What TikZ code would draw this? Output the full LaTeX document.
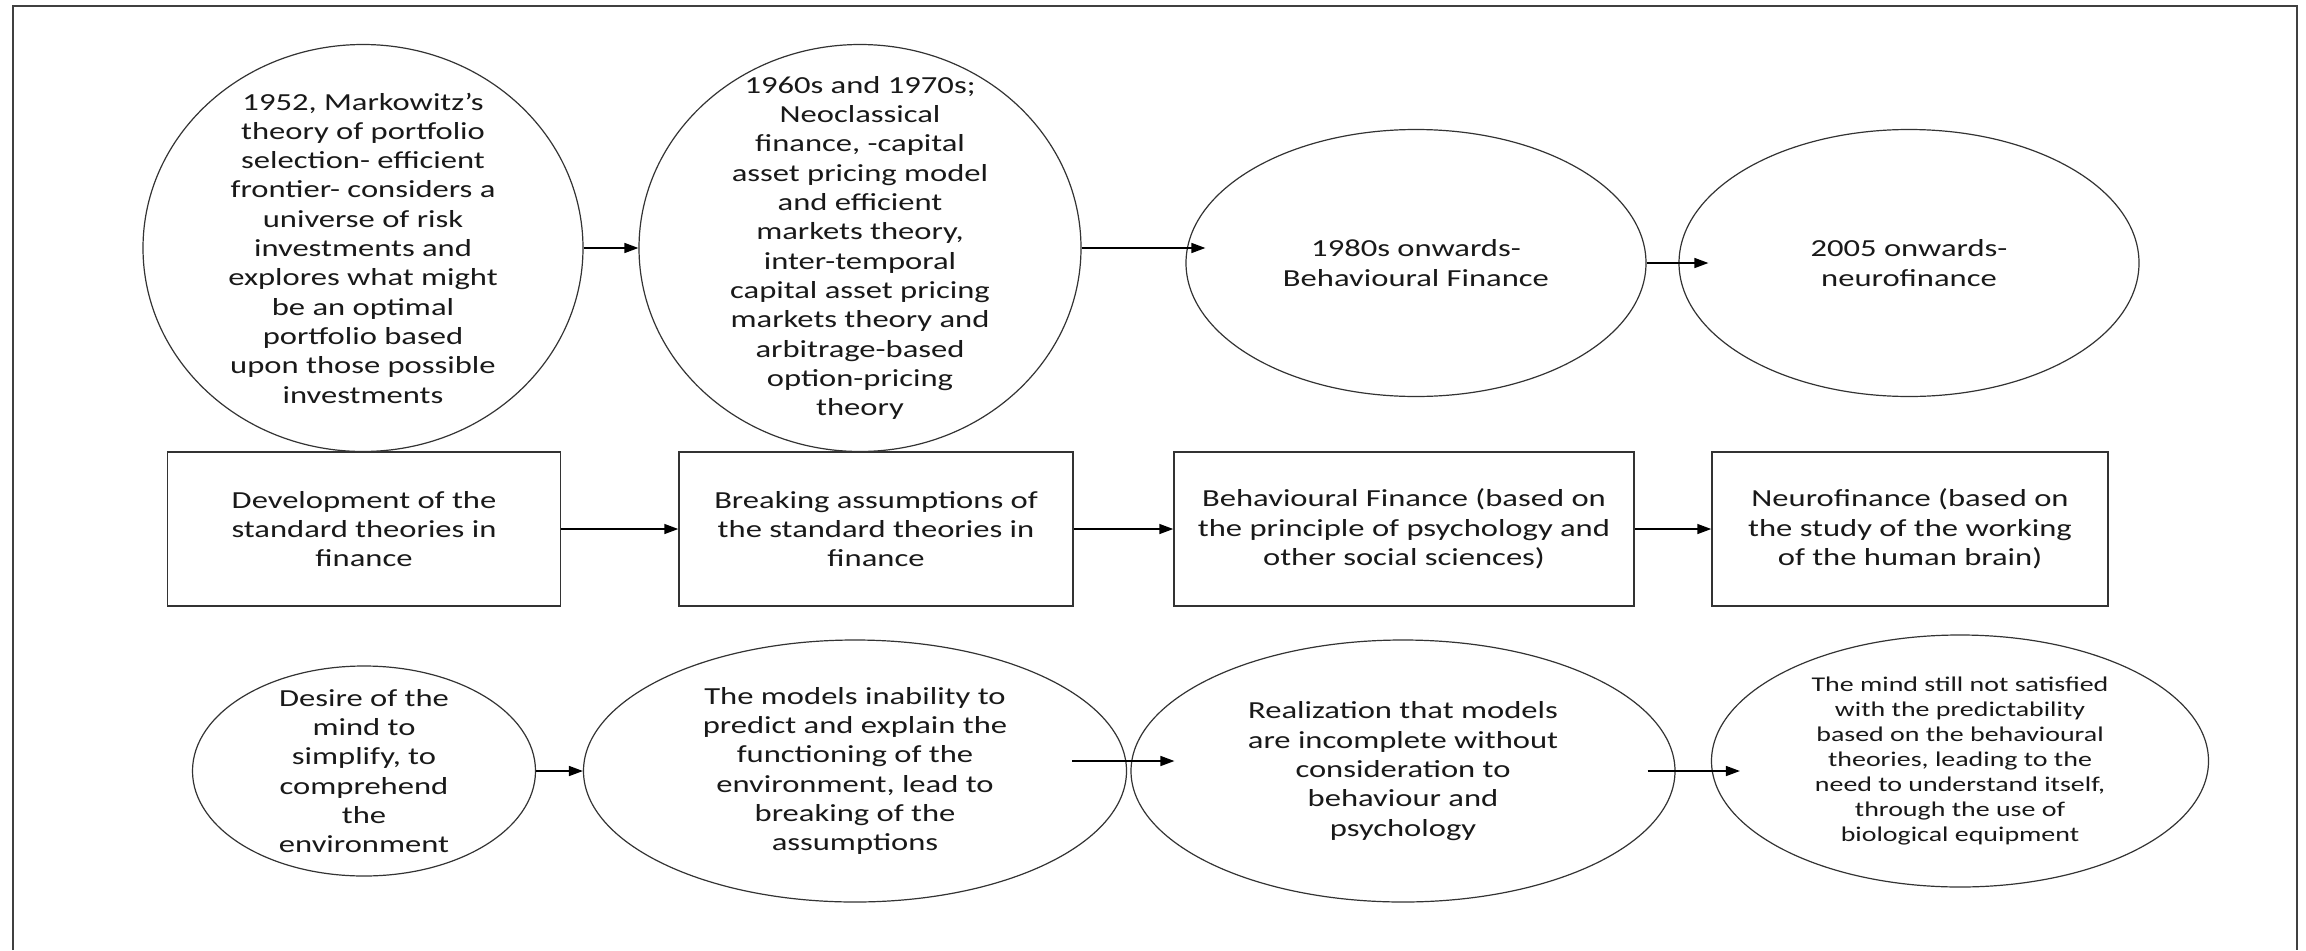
\documentclass[tikz,border=0pt]{standalone}
\usepackage{fontspec}
\setmainfont{Carlito}[FakeStretch=1.33]
\usetikzlibrary{shapes.geometric,arrows.meta,calc}
\tikzset{
  ell/.style={draw=black!80, line width=1.2pt, ellipse, inner sep=0pt},
  rbox/.style={draw=black!80, line width=1.5pt, rectangle, inner sep=0pt},
  txt/.style={align=center, text=black!90, inner sep=0pt, font=\fontsize{24.5}{29.3}\selectfont},
  stxt/.style={align=center, text=black!90, inner sep=0pt, font=\fontsize{21}{25}\selectfont},
  arr/.style={-{Triangle[length=14pt,width=10pt]}, line width=1.5pt, black},
  frame/.style={draw=black!75, line width=2pt},
}
\begin{document}
\begin{tikzpicture}[x=1pt,y=-1pt]
\useasboundingbox (0,0) rectangle (2306,950);
\fill[white] (0,0) rectangle (2306,950);
\draw[frame] (13,950) -- (13,6) -- (2297,6) -- (2297,950);

% top row ellipses
\node[ell, minimum width=440pt, minimum height=407pt] (e1) at (363,248) {};
\node[ell, minimum width=442pt, minimum height=407pt] (e2) at (860,248) {};
\node[ell, minimum width=460pt, minimum height=267pt] (e3) at (1416,263) {};
\node[ell, minimum width=460pt, minimum height=267pt] (e4) at (1909,263) {};

\node[txt] (t1) at (e1.center) {1952, Markowitz’s\\theory of portfolio\\selection- efficient\\frontier- considers a\\universe of risk\\investments and\\explores what might\\be an optimal\\portfolio based\\upon those possible\\investments};
\node[txt] (t2) at (e2.center) {1960s and 1970s;\\Neoclassical\\finance, -capital\\asset pricing model\\and efficient\\markets theory,\\inter-temporal\\capital asset pricing\\markets theory and\\arbitrage-based\\option-pricing\\theory};
\node[txt] (t3) at (e3.center) {1980s onwards-\\Behavioural Finance};
\node[txt] (t4) at (e4.center) {2005 onwards-\\neurofinance};

% middle row boxes
\node[rbox, minimum width=393pt, minimum height=154pt] (b1) at (364,529) {};
\node[rbox, minimum width=394pt, minimum height=154pt] (b2) at (876,529) {};
\node[rbox, minimum width=460pt, minimum height=154pt] (b3) at (1404,529) {};
\node[rbox, minimum width=396pt, minimum height=154pt] (b4) at (1910,529) {};

\node[txt] (u1) at (b1.center) {Development of the\\standard theories in\\finance};
\node[txt] (u2) at (b2.center) {Breaking assumptions of\\the standard theories in\\finance};
\node[txt] (u3) at (b3.center) {Behavioural Finance (based on\\the principle of psychology and\\other social sciences)};
\node[txt] (u4) at (b4.center) {Neurofinance (based on\\the study of the working\\of the human brain)};

% bottom row ellipses
\node[ell, minimum width=343pt, minimum height=210pt] (e5) at (364,771) {};
\node[ell, minimum width=543pt, minimum height=262pt] (e6) at (855,771) {};
\node[ell, minimum width=544pt, minimum height=262pt] (e7) at (1403,771) {};
\node[ell, minimum width=497pt, minimum height=252pt] (e8) at (1960,761) {};

\node[txt] (t5) at (e5.center) {Desire of the\\mind to\\simplify, to\\comprehend\\the\\environment};
\node[txt] (t6) at (e6.center) {The models inability to\\predict and explain the\\functioning of the\\environment, lead to\\breaking of the\\assumptions};
\node[txt] (t7) at (e7.center) {Realization that models\\are incomplete without\\consideration to\\behaviour and\\psychology};
\node[stxt] (t8) at (e8.center) {The mind still not satisfied\\with the predictability\\based on the behavioural\\theories, leading to the\\need to understand itself,\\through the use of\\biological equipment};

% arrows top row
\draw[arr] (e1.east) -- (e2.west);
\draw[arr] (e2.east) -- ($(e2.east -| e3.west)+(20,0)$);
\draw[arr] (e3.east) -- ($(e4.west)+(30,0)$);

% arrows middle row
\draw[arr] (b1.east) -- (b2.west);
\draw[arr] (b2.east) -- (b3.west);
\draw[arr] (b3.east) -- (b4.west);

% arrows bottom row
\draw[arr] (e5.east) -- (e6.west);
\draw[arr] ($(e6.east)+(-55,-10)$) -- ($(e7.west)+(44,-10)$);
\draw[arr] ($(e7.east)+(-28,0)$) -- ($(e8.west)+(29,10)$);
\end{tikzpicture}
\end{document}
